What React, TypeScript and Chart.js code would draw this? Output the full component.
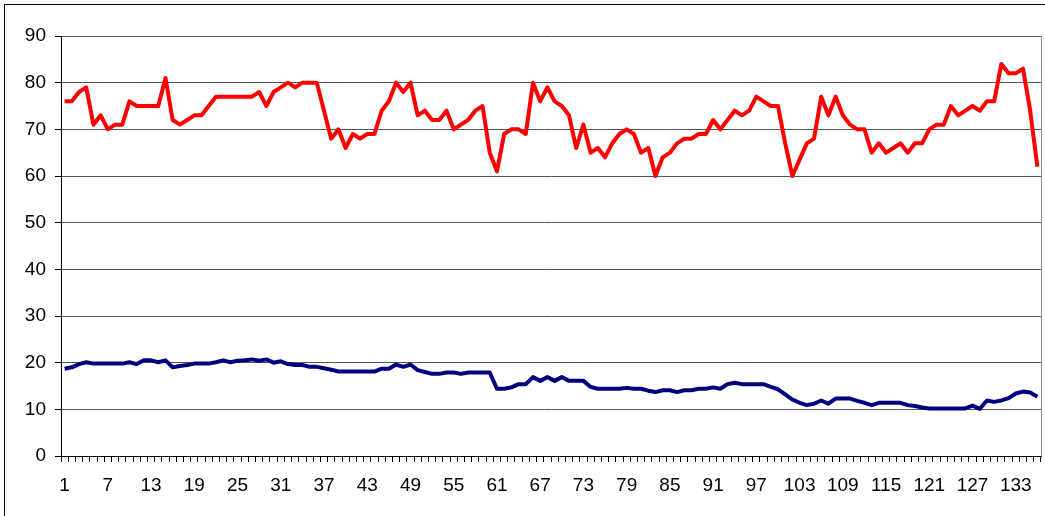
import React, { useEffect, useRef } from 'react';
import { Chart, registerables } from 'chart.js';

Chart.register(...registerables);

const categories: string[] = Array.from({ length: 136 }, (_, i) => String(i + 1));

const shownTickLabels = ['1', '7', '13', '19', '25', '31', '37', '43', '49', '55', '61', '67', '73', '79', '85', '91', '97', '103', '109', '115', '121', '127', '133'];

const yTicks = [0, 10, 20, 30, 40, 50, 60, 70, 80, 90];

const redSeries = [
  76, 76, 78, 79, 71, 73, 70, 71, 71, 76,
  75, 75, 75, 75, 81, 72, 71, 72, 73, 73,
  75, 77, 77, 77, 77, 77, 77, 78, 75, 78,
  79, 80, 79, 80, 80, 80, 74, 68, 70, 66,
  69, 68, 69, 69, 74, 76, 80, 78, 80, 73,
  74, 72, 72, 74, 70, 71, 72, 74, 75, 65,
  61, 69, 70, 70, 69, 80, 76, 79, 76, 75,
  73, 66, 71, 65, 66, 64, 67, 69, 70, 69,
  65, 66, 60, 64, 65, 67, 68, 68, 69, 69,
  72, 70, 72, 74, 73, 74, 77, 76, 75, 75,
  67, 60, 63.5, 67, 68, 77, 73, 77, 73, 71,
  70, 70, 65, 67, 65, 66, 67, 65, 67, 67,
  70, 71, 71, 75, 73, 74, 75, 74, 76, 76,
  84, 82, 82, 83, 74, 62,
];

const blueSeries = [
  18.7, 19, 19.7, 20.1, 19.8, 19.8, 19.8, 19.8, 19.8, 20.1,
  19.7, 20.5, 20.5, 20.1, 20.5, 19, 19.3, 19.5, 19.8, 19.8,
  19.8, 20.1, 20.5, 20.1, 20.4, 20.5, 20.7, 20.4, 20.7, 20,
  20.3, 19.7, 19.5, 19.5, 19.1, 19.1, 18.8, 18.5, 18.1, 18.1,
  18.1, 18.1, 18.1, 18.1, 18.7, 18.7, 19.6, 19.1, 19.6, 18.4,
  18, 17.6, 17.6, 17.9, 17.9, 17.6, 17.9, 17.9, 17.9, 17.9,
  14.4, 14.4, 14.7, 15.4, 15.4, 16.9, 16.1, 16.9, 16.1, 16.9,
  16.1, 16.1, 16.1, 14.8, 14.4, 14.4, 14.4, 14.4, 14.6, 14.4,
  14.4, 14, 13.7, 14.1, 14.1, 13.7, 14.1, 14.1, 14.4, 14.4,
  14.7, 14.4, 15.4, 15.7, 15.4, 15.4, 15.4, 15.4, 14.8, 14.3,
  13.2, 12.1, 11.4, 10.9, 11.2, 11.9, 11.2, 12.3, 12.3, 12.3,
  11.8, 11.4, 10.9, 11.4, 11.4, 11.4, 11.4, 10.9, 10.7, 10.4,
  10.2, 10.2, 10.2, 10.2, 10.2, 10.2, 10.8, 10.1, 11.9, 11.6,
  11.9, 12.4, 13.4, 13.8, 13.6, 12.7,
];

const FONT = "'Liberation Sans', Arial, sans-serif";

export default function App() {
  const ref = useRef<HTMLCanvasElement>(null);

  useEffect(() => {
    if (!ref.current) return;
    const plotBorder = {
      id: 'plotBorder',
      beforeDatasetsDraw(chart: any) {
        const { ctx, chartArea: a } = chart;
        ctx.save();
        ctx.strokeStyle = '#8c8c8c';
        ctx.lineWidth = 1;
        ctx.beginPath();
        const x = Math.round(a.right) + 0.5;
        ctx.moveTo(x, a.top);
        ctx.lineTo(x, a.bottom);
        ctx.stroke();
        ctx.restore();
      },
    };
    const chart = new Chart(ref.current, {
      type: 'line',
      data: {
        labels: categories,
        datasets: [
          {
            data: redSeries,
            borderColor: '#ff0000',
            backgroundColor: '#ff0000',
            borderWidth: 4,
            pointRadius: 0,
            tension: 0,
            borderJoinStyle: 'round',
            fill: false,
          },
          {
            data: blueSeries,
            borderColor: '#000080',
            backgroundColor: '#000080',
            borderWidth: 4,
            pointRadius: 0,
            tension: 0,
            borderJoinStyle: 'round',
            fill: false,
          },
        ],
      },
      options: {
        responsive: false,
        animation: false,
        devicePixelRatio: 1,
        layout: { padding: { top: 36, right: 4, left: 0, bottom: 0 } },
        plugins: { legend: { display: false }, tooltip: { enabled: false } },
        scales: {
          x: {
            type: 'category',
            offset: true,
            grid: {
              offset: true,
              drawOnChartArea: false,
              drawTicks: true,
              tickLength: 6,
              color: '#000',
            },
            border: { color: '#000', width: 1 },
            ticks: {
              autoSkip: false,
              maxRotation: 0,
              minRotation: 0,
              padding: 12,
              color: '#000',
              font: { family: FONT, size: 19 },
              callback: (_v: any, i: number) =>
                shownTickLabels.includes(categories[i]) ? categories[i] : '',
            },
            afterFit: (s: any) => {
              s.height = 60;
              s.paddingLeft = 0;
              s.paddingRight = 0;
            },
          },
          y: {
            min: 0,
            max: 90,
            afterBuildTicks: (s: any) => {
              s.ticks = yTicks.map((v) => ({ value: v }));
            },
            grid: { color: '#555', tickLength: 6, tickColor: '#000' },
            border: { color: '#000', width: 1 },
            ticks: {
              padding: 9,
              color: '#000',
              font: { family: FONT, size: 19 },
            },
            afterFit: (s: any) => {
              s.width = 61;
            },
          },
        },
      },
      plugins: [plotBorder],
    });
    return () => chart.destroy();
  }, []);

  return (
    <div
      style={{
        position: 'fixed',
        left: 0,
        top: 0,
        width: 1045,
        height: 516,
        background: '#fff',
        overflow: 'hidden',
      }}
    >
      <div
        style={{
          position: 'absolute',
          left: 4,
          top: 4,
          width: 1100,
          height: 600,
          border: '1px solid #000',
          boxSizing: 'border-box',
        }}
      />
      <canvas
        ref={ref}
        width={1045}
        height={516}
        style={{ position: 'absolute', left: 0, top: 0, width: 1045, height: 516 }}
      />
    </div>
  );
}
